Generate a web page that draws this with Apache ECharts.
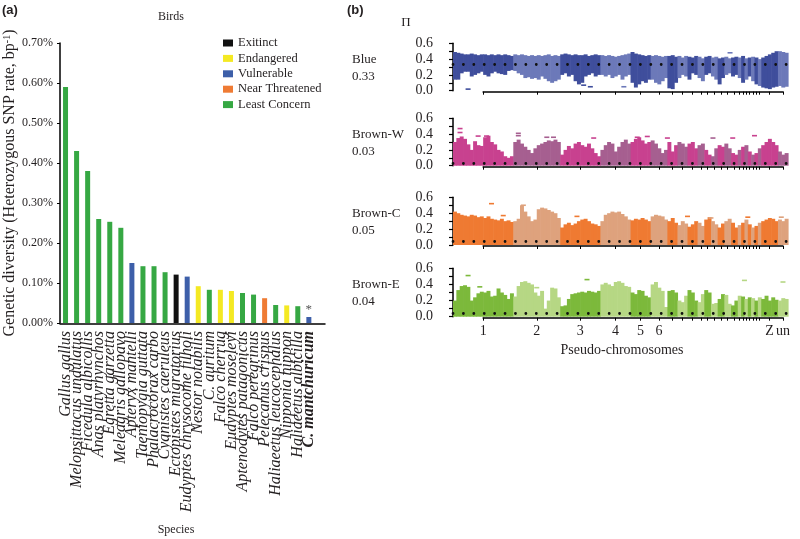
<!DOCTYPE html>
<html><head><meta charset="utf-8">
<script src="https://cdn.jsdelivr.net/npm/echarts@6/dist/echarts.min.js"></script>
<style>html,body{margin:0;padding:0;background:#fff}#c{width:800px;height:539px}</style>
</head><body><div id="c"></div>
<script>
// ---------- Panel (a) data ----------
const species = ['Gallus gallus','Melopsittacus undulatus','Ficedula albicollis','Anas platyrhynchos','Egretta garzetta','Meleagris gallopavo','Apteryx mantelli','Taeniopygia guttata','Phalacrocorax carbo','Cyanistes caeruleus','Ectopistes migratorius','Eudyptes chrysocome filholi','Nestor notabilis','C. auritum','Falco cherrug','Eudyptes moseleyi','Aptenodytes patagonicus','Falco peregrinus','Pelecanus crispus','Haliaeetus leucocephalus','Nipponia nippon','Haliaeetus albicilla','C. mantchuricum'];
const diversity = [0.59,0.43,0.38,0.26,0.253,0.238,0.15,0.142,0.142,0.127,0.121,0.116,0.092,0.083,0.083,0.08,0.075,0.071,0.062,0.045,0.044,0.042,0.015];
const speciesStatus = [4,4,4,4,4,4,2,4,4,4,0,2,1,4,1,1,4,4,3,4,1,4,2];
const statusNames = ['Exitinct','Endangered','Vulnerable','Near Threatened','Least Concern'];
const statusColors = ['#111111','#f4e923','#3d5fa9','#ef7b34','#36a843'];
const flaggedSpecies = ['C. mantchuricum'];
const boldSpecies = ['C. mantchuricum'];

// ---------- Panel (b) data ----------
const chromNames = ['1','2','3','4','5','6','7','8','9','10','11','12','13','14','15','16','17','18','19','20','21','22','Z','un'];
const chromWindows = [18,14,12,9,6,5,3,3,3,2,2,2,2,2,2,1,1,1,1,1,1,1,5,3];
const chromLabelled = ['1','2','3','4','5','6','Z','un'];
const popNames = ['Blue','Brown-W','Brown-C','Brown-E'];
const popMeanPi = [0.33,0.03,0.05,0.04];
const blueLow = [0.14,0.14,0.22,0.24,0.24,0.18,0.2,0.22,0.24,0.2,0.18,0.22,0.24,0.22,0.21,0.2,0.25,0.26,
  0.25,0.22,0.2,0.16,0.17,0.15,0.16,0.14,0.18,0.15,0.12,0.1,0.12,0.14,
  0.2,0.22,0.18,0.2,0.12,0.08,0.1,0.18,0.2,0.22,0.18,0.2,
  0.2,0.18,0.2,0.16,0.18,0.2,0.14,0.18,0.2,
  0.1,0.04,0.08,0.12,0.1,0.14,
  0.14,0.1,0.08,0.12,0.16,
  0.03,0.02,0.1,0.16,0.2,0.18,0.14,0.22,0.2,0.16,0.12,0.2,0.22,0.18,0.14,0.08,0.16,0.2,0.22,0.18,0.2,0.16,0.1,0.14,0.18,0.12,0.08,0.06,
  0.04,0.03,0.02,0.04,0.05,
  0.06,0.04,0.05];
const blueHigh = [0.49,0.48,0.47,0.46,0.46,0.47,0.46,0.45,0.46,0.46,0.45,0.46,0.45,0.46,0.45,0.46,0.45,0.44,
  0.46,0.45,0.46,0.45,0.44,0.45,0.44,0.45,0.44,0.45,0.46,0.44,0.45,0.44,
  0.46,0.47,0.46,0.45,0.46,0.45,0.45,0.46,0.44,0.45,0.46,0.45,
  0.45,0.44,0.45,0.44,0.43,0.44,0.45,0.46,0.47,
  0.49,0.47,0.46,0.45,0.44,0.45,
  0.44,0.45,0.44,0.43,0.44,
  0.44,0.45,0.43,0.44,0.42,0.44,0.43,0.42,0.44,0.43,0.41,0.43,0.44,0.42,0.43,0.41,0.42,0.43,0.41,0.42,0.43,0.42,0.44,0.41,0.42,0.43,0.42,0.4,
  0.42,0.44,0.46,0.48,0.5,
  0.5,0.49,0.48];
const brownWHigh = [0.3,0.35,0.37,0.34,0.27,0.2,0.31,0.26,0.25,0.36,0.38,0.3,0.27,0.2,0.18,0.12,0.1,0.12,
  0.3,0.33,0.28,0.24,0.2,0.16,0.22,0.26,0.28,0.3,0.32,0.31,0.33,0.3,
  0.14,0.2,0.25,0.22,0.28,0.3,0.26,0.24,0.28,0.22,0.16,0.12,
  0.2,0.26,0.3,0.28,0.18,0.24,0.3,0.33,0.28,
  0.3,0.34,0.36,0.32,0.28,0.3,
  0.32,0.28,0.22,0.16,0.2,
  0.3,0.18,0.26,0.3,0.28,0.24,0.28,0.3,0.22,0.26,0.28,0.2,0.14,0.12,0.22,0.26,0.24,0.28,0.22,0.16,0.14,0.2,0.24,0.26,0.18,0.14,0.16,0.22,
  0.26,0.3,0.34,0.3,0.26,
  0.18,0.14,0.16];
const brownCHigh = [0.42,0.4,0.38,0.37,0.36,0.38,0.37,0.35,0.36,0.34,0.36,0.33,0.32,0.31,0.33,0.3,0.31,0.29,
  0.3,0.33,0.5,0.42,0.36,0.3,0.32,0.45,0.47,0.46,0.44,0.42,0.4,0.34,
  0.22,0.26,0.28,0.25,0.27,0.3,0.32,0.33,0.3,0.27,0.26,0.24,
  0.3,0.38,0.4,0.42,0.41,0.42,0.39,0.36,0.32,
  0.31,0.33,0.32,0.34,0.32,0.3,
  0.36,0.38,0.37,0.36,0.32,
  0.3,0.34,0.28,0.25,0.3,0.27,0.23,0.26,0.3,0.28,0.24,0.32,0.35,0.3,0.26,0.22,0.27,0.3,0.33,0.28,0.22,0.25,0.28,0.32,0.26,0.22,0.24,0.28,
  0.3,0.32,0.34,0.33,0.3,
  0.32,0.3,0.33];
const brownEHigh = [0.2,0.33,0.38,0.39,0.37,0.2,0.24,0.29,0.31,0.3,0.32,0.25,0.26,0.35,0.3,0.27,0.22,0.29,
  0.25,0.38,0.43,0.44,0.42,0.4,0.3,0.26,0.32,0.1,0.2,0.36,0.35,0.24,
  0.13,0.14,0.22,0.28,0.29,0.3,0.31,0.3,0.32,0.31,0.3,0.32,
  0.4,0.42,0.4,0.38,0.43,0.44,0.42,0.38,0.37,
  0.3,0.28,0.33,0.32,0.26,0.24,
  0.4,0.43,0.36,0.32,0.12,
  0.32,0.33,0.3,0.2,0.18,0.26,0.33,0.3,0.2,0.18,0.28,0.33,0.3,0.16,0.17,0.22,0.28,0.27,0.16,0.14,0.2,0.26,0.25,0.22,0.24,0.23,0.2,0.24,
  0.22,0.26,0.2,0.24,0.21,
  0.2,0.23,0.22];
const blueOutliers = [[4.5,0.02],[39,0.07],[41,0.05],[51,0.05],[82.7,0.48]];
const brownWOutliers = [[2.1,0.47],[2.1,0.42],[7.5,0.375],[10,0.375],[19.5,0.41],[19.5,0.38],[28,0.36],[30,0.36],[42,0.35],[55,0.36],[58,0.37],[64,0.35],[77.6,0.35],[83.5,0.35],[90,0.38]];
const brownCOutliers = [[11.5,0.52],[15,0.37],[21,0.5],[37,0.36],[70,0.36],[77,0.34],[88,0.35],[98,0.35]];
const brownEOutliers = [[4.5,0.51],[8,0.37],[25,0.36],[40,0.46],[87,0.45],[98.5,0.43]];

// ---------- derived ----------
const SERIF = 'Liberation Serif';
const TXT = '#231f20';
const popLow = [blueLow, null, null, null];
const popHigh = [blueHigh, brownWHigh, brownCHigh, brownEHigh];
const popOutliers = [blueOutliers, brownWOutliers, brownCOutliers, brownEOutliers];
const popColors = [['#3f4e9c','#6c79b9'],['#c8418f','#a65f90'],['#ef7a32','#dea27d'],['#7cb93b','#b6d784']];

const chromStart = []; let acc = 0;
chromWindows.forEach(n => { chromStart.push(acc); acc += n; });
const nWin = acc;
const chromCenter = chromStart.map((s, i) => s + chromWindows[i] / 2);
const winChrom = [];
chromWindows.forEach((n, i) => { for (let k = 0; k < n; k++) winChrom.push(i); });

// layout
const A_LEFT = 60, A_TOP = 43, A_H = 280, A_BAND = 11.06, A_AXIS_W = 265;
const B_LEFT = 453, B_W = 335;
const B_TOPS = [43.3, 118.3, 197.3, 268.3];
const B_H = [47.4, 47.4, 47.7, 48.4];

const grids = [
  {left: A_LEFT, top: A_TOP, width: A_BAND * species.length, height: A_H},
  {left: A_LEFT, top: A_TOP + A_H, width: A_AXIS_W, height: 1}
];
const xAxes = [{
  gridIndex: 0, type: 'category', data: species, boundaryGap: true,
  axisTick: {show: false}, axisLine: {show: false},
  axisLabel: {
    interval: 0, rotate: 90, margin: 8,
    fontFamily: SERIF, fontStyle: 'italic', fontSize: 16, color: TXT,
    formatter: v => boldSpecies.includes(v) ? '{b|' + v + '}' : v,
    rich: {b: {fontWeight: 'bold', fontStyle: 'italic', fontFamily: SERIF, fontSize: 16, color: TXT}}
  }
}, {
  gridIndex: 1, type: 'value', min: 0, max: 1, splitLine: {show: false},
  axisTick: {show: false}, axisLabel: {show: false},
  axisLine: {show: true, onZero: false, lineStyle: {color: '#000', width: 1.5}}
}];
const yAxes = [{
  gridIndex: 0, type: 'value', min: 0, max: 0.7, interval: 0.1,
  splitLine: {show: false},
  axisLine: {show: true, lineStyle: {color: '#000', width: 1.5}},
  axisTick: {show: true, length: 3, lineStyle: {color: '#000'}},
  axisLabel: {formatter: v => v.toFixed(2) + '%', fontFamily: SERIF, fontSize: 12, color: TXT, margin: 7},
  name: 'Genetic diversity (Heterozygous SNP rate, bp{s|-1})',
  nameLocation: 'middle', nameGap: 40,
  nameTextStyle: {fontFamily: SERIF, fontSize: 16, color: TXT,
    rich: {s: {fontFamily: SERIF, fontSize: 10, color: TXT, verticalAlign: 'top'}}}
}, {gridIndex: 1, type: 'value', show: false}];
const series = [];

statusNames.forEach((name, k) => {
  series.push({
    type: 'bar', name: name, xAxisIndex: 0, yAxisIndex: 0, stack: 'a', barWidth: 5,
    itemStyle: {color: statusColors[k]},
    data: species.map((s, i) => speciesStatus[i] !== k ? '-' : {
      value: diversity[i],
      label: flaggedSpecies.includes(s) ? {show: true, position: 'top', formatter: '*', distance: 1, fontFamily: SERIF, fontSize: 13, color: '#555'} : {show: false}
    })
  });
});

const B0 = xAxes.length; // first panel-b x axis index
for (let p = 0; p < 4; p++) {
  const gi = B0 + p;
  grids.push({left: B_LEFT, top: B_TOPS[p], width: B_W, height: B_H[p]});
  xAxes.push({gridIndex: gi, type: 'value', min: 0, max: nWin, show: false});
  yAxes.push({
    gridIndex: gi, type: 'value', min: 0, max: 0.6, interval: 0.1, offset: 9,
    splitLine: {show: false},
    axisLine: {show: true, lineStyle: {color: '#000', width: 1.5}},
    axisTick: {show: true, length: 4, lineStyle: {color: '#000', width: 1.2}},
    axisLabel: {formatter: v => (Math.round(v * 10) % 2 === 0 ? v.toFixed(1) : ''), fontFamily: SERIF, fontSize: 14, color: TXT, margin: 11}
  });
  const cols = popColors[p];
  const data = popHigh[p].map((h, i) => [i, popLow[p] ? popLow[p][i] : 0, h, winChrom[i]]);
  series.push({
    type: 'custom', xAxisIndex: gi, yAxisIndex: gi, encode: {x: 0, y: [1, 2]},
    data: data,
    renderItem: (params, api) => {
      const w = api.value(0), lo = api.value(1), hi = api.value(2), c = api.value(3);
      const a = api.coord([w, hi]), b = api.coord([w + 1, lo]);
      return {type: 'rect', shape: {x: a[0], y: a[1], width: b[0] - a[0] + 0.6, height: b[1] - a[1]},
        style: {fill: cols[c % 2]}};
    }
  });
  series.push({
    type: 'scatter', xAxisIndex: gi, yAxisIndex: gi, symbol: 'rect', symbolSize: [5, 1.6],
    data: popOutliers[p],
    itemStyle: {color: params => cols[winChrom[Math.min(nWin - 1, Math.floor(params.value[0]))] % 2], opacity: 1},
    markLine: {silent: true, symbol: ['none', 'none'], label: {show: false},
      lineStyle: {color: '#111', width: 2.8, type: [0.01, 10.4], cap: 'round'},
      data: [{yAxis: popMeanPi[p]}]}
  });
}

// chromosome axes (from chr 1 centre to 'un' centre)
const c0 = chromCenter[0], cN = chromCenter[chromCenter.length - 1];
const labelledCenters = chromNames.map((n, i) => i).filter(i => chromLabelled.includes(chromNames[i])).map(i => chromCenter[i]);
for (let p = 0; p < 4; p++) {
  const gi = B0 + 4 + p;
  grids.push({left: B_LEFT + B_W * c0 / nWin, top: B_TOPS[p] + B_H[p], width: B_W * (cN - c0) / nWin, height: 1});
  xAxes.push({
    gridIndex: gi, type: 'value', min: c0, max: cN, splitLine: {show: false},
    axisLine: {show: true, onZero: false, lineStyle: {color: '#000', width: 1.5}},
    axisTick: {show: true, customValues: chromCenter, length: 3, lineStyle: {color: '#000'}},
    axisLabel: {show: p === 3, customValues: labelledCenters, margin: 7, fontFamily: SERIF, fontSize: 14, color: TXT,
      showMinLabel: true, showMaxLabel: true,
      formatter: v => { const i = chromCenter.findIndex(c => Math.abs(c - v) < 1e-6); return i >= 0 ? chromNames[i] : ''; }}
  });
  yAxes.push({gridIndex: gi, type: 'value', show: false});
}

// text
const T = (x, y, text, size, extra) => ({type: 'text', x: x, y: y, silent: true,
  style: Object.assign({text: text, fontFamily: SERIF, fontSize: size, fill: TXT, align: 'left', verticalAlign: 'middle'}, extra || {})});
const graphics = [
  T(2, 10, '(a)', 13, {fontFamily: 'Liberation Sans', fontWeight: 'bold'}),
  T(347, 10, '(b)', 13, {fontFamily: 'Liberation Sans', fontWeight: 'bold'}),
  T(171, 17, 'Birds', 12, {align: 'center'}),
  T(176, 530, 'Species', 12, {align: 'center'}),
  T(406, 23, 'Π', 13, {align: 'center'}),
  T(622, 350, 'Pseudo-chromosomes', 14, {align: 'center'})
];
popNames.forEach((n, p) => {
  const y = B_TOPS[p] + B_H[p] * (1 - 0.4 / 0.6);
  graphics.push(T(352, y, n, 13));
  graphics.push(T(352, y + 17, popMeanPi[p].toFixed(2), 13));
});

const chart = echarts.init(document.getElementById('c'), null, {renderer: 'canvas'});
chart.setOption({
  animation: false,
  textStyle: {fontFamily: SERIF},
  grid: grids, xAxis: xAxes, yAxis: yAxes,
  legend: {data: statusNames, orient: 'vertical', left: 218, top: 31, icon: 'rect',
    itemWidth: 10, itemHeight: 7, itemGap: 1.4, selectedMode: false,
    textStyle: {fontFamily: SERIF, fontSize: 12.5, color: TXT, lineHeight: 14}},
  graphic: graphics,
  series: series
});
</script></body></html>
